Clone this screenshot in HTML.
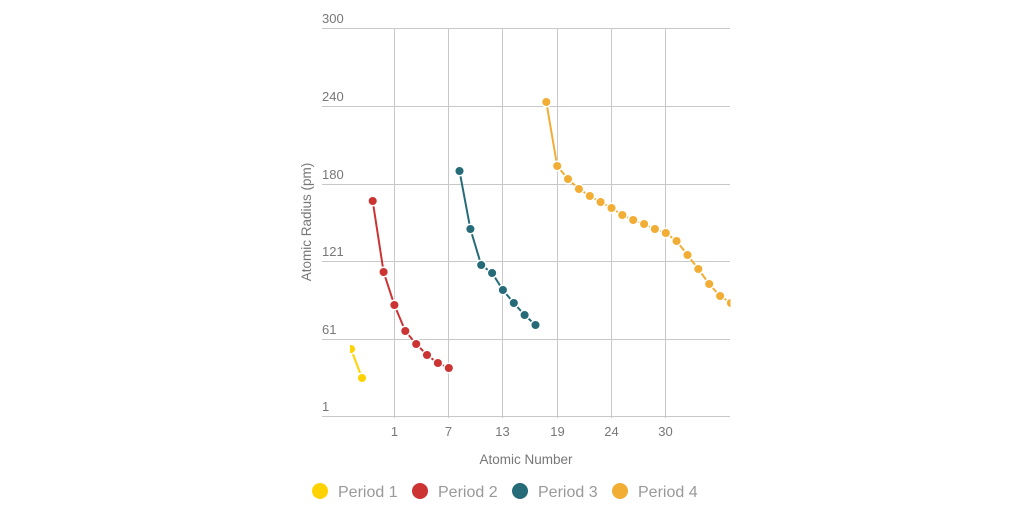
<!DOCTYPE html>
<html><head><meta charset="utf-8"><style>
html,body{margin:0;padding:0;background:#fff;}
svg{display:block;font-family:"Liberation Sans",sans-serif;}
</style></head><body>
<svg width="1024" height="512" viewBox="0 0 1024 512" xmlns="http://www.w3.org/2000/svg">
<defs><clipPath id="c"><rect x="350" y="0" width="380.5" height="420"/></clipPath></defs>
<g stroke="#c8c8c8" stroke-width="1">
<line x1="322" y1="28.5" x2="730" y2="28.5"/>
<line x1="322" y1="106.5" x2="730" y2="106.5"/>
<line x1="322" y1="184.5" x2="730" y2="184.5"/>
<line x1="322" y1="261.5" x2="730" y2="261.5"/>
<line x1="322" y1="339.5" x2="730" y2="339.5"/>
<line x1="322" y1="416.5" x2="730" y2="416.5"/>
<line x1="394.5" y1="28" x2="394.5" y2="418"/>
<line x1="448.5" y1="28" x2="448.5" y2="418"/>
<line x1="502.5" y1="28" x2="502.5" y2="418"/>
<line x1="557.5" y1="28" x2="557.5" y2="418"/>
<line x1="611.5" y1="28" x2="611.5" y2="418"/>
<line x1="665.5" y1="28" x2="665.5" y2="418"/>
</g>
<g fill="#777" font-size="13">
<text x="322" y="23">300</text>
<text x="322" y="101">240</text>
<text x="322" y="179">180</text>
<text x="322" y="256">121</text>
<text x="322" y="334">61</text>
<text x="322" y="411">1</text>
</g>
<g fill="#777" font-size="13" text-anchor="middle">
<text x="394.5" y="436">1</text>
<text x="448.5" y="436">7</text>
<text x="502.5" y="436">13</text>
<text x="557.5" y="436">19</text>
<text x="611.5" y="436">24</text>
<text x="665.5" y="436">30</text>
<text x="526" y="464" font-size="13.5">Atomic Number</text>
<text transform="translate(311,222) rotate(-90)" font-size="13.5">Atomic Radius (pm)</text>
</g>
<g clip-path="url(#c)" stroke="#fff" stroke-width="1.5">
<polyline fill="none" stroke="#ffd200" stroke-width="2" points="351,349 362,378"/>
<g fill="#ffd200"><circle cx="351" cy="349" r="4.8"/><circle cx="362" cy="378" r="4.8"/></g>
<polyline fill="none" stroke="#cc3333" stroke-width="2" points="372.7,201 383.6,272 394.4,305 405.3,331 416.2,344 427,355 437.9,363 448.8,368"/>
<g fill="#cc3333">
<circle cx="372.7" cy="201" r="4.8"/><circle cx="383.6" cy="272" r="4.8"/><circle cx="394.4" cy="305" r="4.8"/><circle cx="405.3" cy="331" r="4.8"/><circle cx="416.2" cy="344" r="4.8"/><circle cx="427" cy="355" r="4.8"/><circle cx="437.9" cy="363" r="4.8"/><circle cx="448.8" cy="368" r="4.8"/>
</g>
<polyline fill="none" stroke="#256b78" stroke-width="2" points="459.5,171 470.4,229 481.2,265 492.1,273 502.9,290 513.8,303 524.6,315 535.5,325"/>
<g fill="#256b78">
<circle cx="459.5" cy="171" r="4.8"/><circle cx="470.4" cy="229" r="4.8"/><circle cx="481.2" cy="265" r="4.8"/><circle cx="492.1" cy="273" r="4.8"/><circle cx="502.9" cy="290" r="4.8"/><circle cx="513.8" cy="303" r="4.8"/><circle cx="524.6" cy="315" r="4.8"/><circle cx="535.5" cy="325" r="4.8"/>
</g>
<polyline fill="none" stroke="#f2ad35" stroke-width="2" points="546.3,102 557.2,166 568,179 578.9,189 589.8,196 600.6,202 611.5,208 622.3,215 633.2,220 644.1,224 654.9,229 665.8,233 676.6,241 687.5,255 698.3,269 709.2,284 720.1,296 730.9,303"/>
<g fill="#f2ad35">
<circle cx="546.3" cy="102" r="4.8"/><circle cx="557.2" cy="166" r="4.8"/><circle cx="568" cy="179" r="4.8"/><circle cx="578.9" cy="189" r="4.8"/><circle cx="589.8" cy="196" r="4.8"/><circle cx="600.6" cy="202" r="4.8"/><circle cx="611.5" cy="208" r="4.8"/><circle cx="622.3" cy="215" r="4.8"/><circle cx="633.2" cy="220" r="4.8"/><circle cx="644.1" cy="224" r="4.8"/><circle cx="654.9" cy="229" r="4.8"/><circle cx="665.8" cy="233" r="4.8"/><circle cx="676.6" cy="241" r="4.8"/><circle cx="687.5" cy="255" r="4.8"/><circle cx="698.3" cy="269" r="4.8"/><circle cx="709.2" cy="284" r="4.8"/><circle cx="720.1" cy="296" r="4.8"/><circle cx="730.9" cy="303" r="4.8"/>
</g>
</g>
<g font-size="16" fill="#999">
<circle cx="320" cy="491" r="8" fill="#ffd200"/><text x="338" y="497">Period 1</text>
<circle cx="420" cy="491" r="8" fill="#cc3333"/><text x="438" y="497">Period 2</text>
<circle cx="520" cy="491" r="8" fill="#256b78"/><text x="538" y="497">Period 3</text>
<circle cx="620" cy="491" r="8" fill="#f2ad35"/><text x="638" y="497">Period 4</text>
</g>
</svg>
</body></html>
